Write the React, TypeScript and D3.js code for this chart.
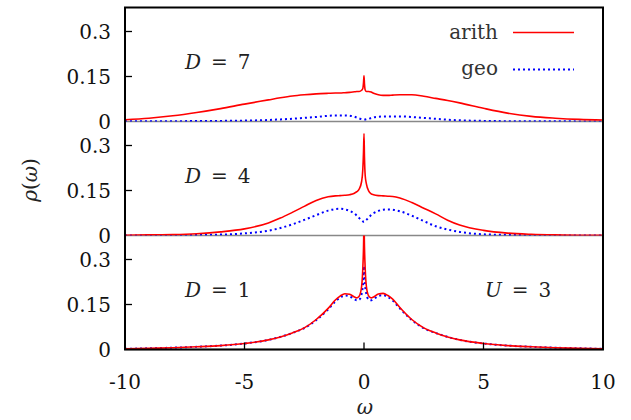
import React from "react";
import * as d3 from "d3";

const omega = [-10, -9, -8, -7, -6, -5, -4, -3.5, -3, -2.5, -2, -1.5, -1.2, -1, -0.8, -0.6, -0.4, -0.3, -0.2, -0.1, -0.05, -0.02, 0, 0.02, 0.05, 0.1, 0.2, 0.3, 0.4, 0.6, 0.8, 1, 1.2, 1.5, 2, 2.5, 3, 3.5, 4, 5, 6, 7, 8, 9, 10];

const arithD7 = [0.006, 0.011, 0.019, 0.03, 0.043, 0.058, 0.072, 0.079, 0.085, 0.089, 0.092, 0.094, 0.095, 0.095, 0.096, 0.097, 0.099, 0.1, 0.1, 0.104, 0.11, 0.13, 0.152, 0.125, 0.105, 0.1, 0.1, 0.098, 0.094, 0.089, 0.087, 0.087, 0.088, 0.089, 0.089, 0.084, 0.077, 0.07, 0.062, 0.044, 0.028, 0.017, 0.011, 0.007, 0.005];
const geoD7 = [0.0005, 0.0007, 0.001, 0.0015, 0.002, 0.003, 0.005, 0.007, 0.009, 0.012, 0.015, 0.019, 0.02, 0.02, 0.02, 0.019, 0.016, 0.013, 0.01, 0.008, 0.007, 0.007, 0.007, 0.007, 0.007, 0.008, 0.009, 0.012, 0.014, 0.016, 0.017, 0.017, 0.017, 0.017, 0.015, 0.012, 0.009, 0.006, 0.004, 0.002, 0.001, 0.0007, 0.0005, 0.0004, 0.0003];

const arithD4 = [0.001, 0.002, 0.003, 0.006, 0.012, 0.022, 0.042, 0.058, 0.077, 0.097, 0.117, 0.129, 0.132, 0.133, 0.134, 0.136, 0.141, 0.146, 0.155, 0.18, 0.22, 0.28, 0.34, 0.26, 0.2, 0.172, 0.148, 0.139, 0.136, 0.133, 0.132, 0.131, 0.13, 0.125, 0.11, 0.091, 0.072, 0.051, 0.035, 0.017, 0.008, 0.004, 0.002, 0.001, 0.001];
const geoD4 = [0.0002, 0.0005, 0.001, 0.002, 0.003, 0.007, 0.016, 0.025, 0.037, 0.052, 0.068, 0.083, 0.088, 0.089, 0.087, 0.082, 0.073, 0.066, 0.058, 0.05, 0.047, 0.046, 0.045, 0.046, 0.048, 0.052, 0.06, 0.068, 0.074, 0.082, 0.086, 0.087, 0.086, 0.081, 0.066, 0.048, 0.031, 0.02, 0.012, 0.004, 0.002, 0.001, 0.0005, 0.0003, 0.0002];

const arithD1 = [0.002, 0.004, 0.006, 0.009, 0.013, 0.02, 0.032, 0.042, 0.055, 0.072, 0.1, 0.137, 0.165, 0.178, 0.186, 0.184, 0.175, 0.172, 0.178, 0.21, 0.27, 0.34, 0.42, 0.34, 0.27, 0.21, 0.178, 0.172, 0.175, 0.185, 0.187, 0.18, 0.168, 0.14, 0.1, 0.072, 0.055, 0.042, 0.032, 0.02, 0.013, 0.009, 0.006, 0.004, 0.002];
const geoD1 = [0.002, 0.004, 0.006, 0.009, 0.013, 0.02, 0.032, 0.042, 0.055, 0.071, 0.098, 0.134, 0.16, 0.173, 0.18, 0.177, 0.168, 0.164, 0.166, 0.185, 0.21, 0.24, 0.278, 0.24, 0.21, 0.185, 0.166, 0.164, 0.168, 0.178, 0.181, 0.175, 0.163, 0.137, 0.098, 0.071, 0.055, 0.042, 0.032, 0.02, 0.013, 0.009, 0.006, 0.004, 0.002];

const panelLabels = ["D = 7", "D = 4", "D = 1"];
const yTicks = [0, 0.15, 0.3];
const xTicks = [-10, -5, 0, 5, 10];
const seriesNames = ["arith", "geo"];

const W = 631;
const H = 420;
const left = 125;
const right = 603;
const top = 7.5;
const panelH = 114;
const FS = 20;
const ts: React.CSSProperties = { fontFamily: '"DejaVu Serif", serif' };

export default function App() {
  const x = d3.scaleLinear().domain([-10, 10]).range([left, right]);
  const panels = [
    { arith: arithD7, geo: geoD7, label: panelLabels[0] },
    { arith: arithD4, geo: geoD4, label: panelLabels[1] },
    { arith: arithD1, geo: geoD1, label: panelLabels[2] },
  ];
  return (
    <svg width={W} height={H} style={{ position: "absolute", left: 0, top: 0, background: "#fff" }}>
      <defs>
        {panels.map((p, i) => (
          <clipPath id={`clip${i}`} key={i}>
            <rect x={left} y={top + i * panelH} width={right - left} height={panelH} />
          </clipPath>
        ))}
      </defs>
      {panels.map((p, i) => {
        const y0 = top + i * panelH;
        const y = d3.scaleLinear().domain([0, 0.38]).range([y0 + panelH, y0]);
        const line = d3
          .line<number>()
          .x((_, k) => x(omega[k]))
          .y((v) => y(v))
          .curve(d3.curveMonotoneX);
        const [name, eq] = p.label.split(" = ");
        return (
          <g key={i}>
            <line x1={left} x2={right} y1={y(0)} y2={y(0)} stroke="#888" strokeWidth={1.5} />
            {yTicks.map((t) => (
              <g key={t}>
                {t > 0 && <line x1={left} x2={left + 7} y1={y(t)} y2={y(t)} stroke="#000" strokeWidth={1.3} />}
                <text x={111} y={y(t)} dy="0.36em" textAnchor="end" fontSize={FS} fill="#111" style={ts}>
                  {t === 0 ? "0" : String(t)}
                </text>
              </g>
            ))}
            <g clipPath={`url(#clip${i})`}>
              <path d={line(p.geo) || ""} fill="none" stroke="#0000ff" strokeWidth={2} strokeDasharray="2,3" />
              <path d={line(p.arith) || ""} fill="none" stroke="#ff0000" strokeWidth={1.6} />
            </g>
            <text x={185} y={y0 + 61} fontSize={FS} fill="#222" style={ts}>
              <tspan fontStyle="italic">{name}</tspan>
              <tspan>{"\u2002=\u2002" + eq}</tspan>
            </text>
          </g>
        );
      })}
      <text x={485} y={top + 2 * panelH + 61} fontSize={FS} fill="#222" style={ts}>
        <tspan fontStyle="italic">U</tspan>
        <tspan>{"\u2002=\u20023"}</tspan>
      </text>
      {xTicks.map((t) => (
        <g key={t}>
          {t > -10 && t < 10 && (
            <line x1={x(t)} x2={x(t)} y1={top + 3 * panelH} y2={top + 3 * panelH - 7} stroke="#000" strokeWidth={1.3} />
          )}
          <text x={x(t)} y={389} textAnchor="middle" fontSize={FS} fill="#111" style={ts}>
            {String(t)}
          </text>
        </g>
      ))}
      <line x1={left} x2={left} y1={top} y2={top + 3 * panelH} stroke="#000" strokeWidth={2} />
      <line x1={right} x2={right} y1={top} y2={top + 3 * panelH} stroke="#000" strokeWidth={2} />
      <line x1={left - 1} x2={right + 1} y1={top} y2={top} stroke="#000" strokeWidth={2} />
      <line x1={left - 1} x2={right + 1} y1={top + 3 * panelH} y2={top + 3 * panelH} stroke="#000" strokeWidth={2} />
      <text x={498} y={39} textAnchor="end" fontSize={FS} fill="#333" style={ts}>{seriesNames[0]}</text>
      <line x1={513} x2={574} y1={32.5} y2={32.5} stroke="#ff0000" strokeWidth={1.6} />
      <text x={498} y={75} textAnchor="end" fontSize={FS} fill="#333" style={ts}>{seriesNames[1]}</text>
      <line x1={513} x2={574} y1={69.5} y2={69.5} stroke="#0000ff" strokeWidth={2} strokeDasharray="2,3" />
      <text transform="translate(37,180) rotate(-90)" textAnchor="middle" fontSize={FS} fill="#222" style={ts}>
        <tspan fontStyle="italic">ρ</tspan>
        <tspan>(</tspan>
        <tspan fontStyle="italic">ω</tspan>
        <tspan>)</tspan>
      </text>
      <text x={365} y={414} textAnchor="middle" fontSize={FS} fontStyle="italic" fill="#222" style={ts}>ω</text>
    </svg>
  );
}
